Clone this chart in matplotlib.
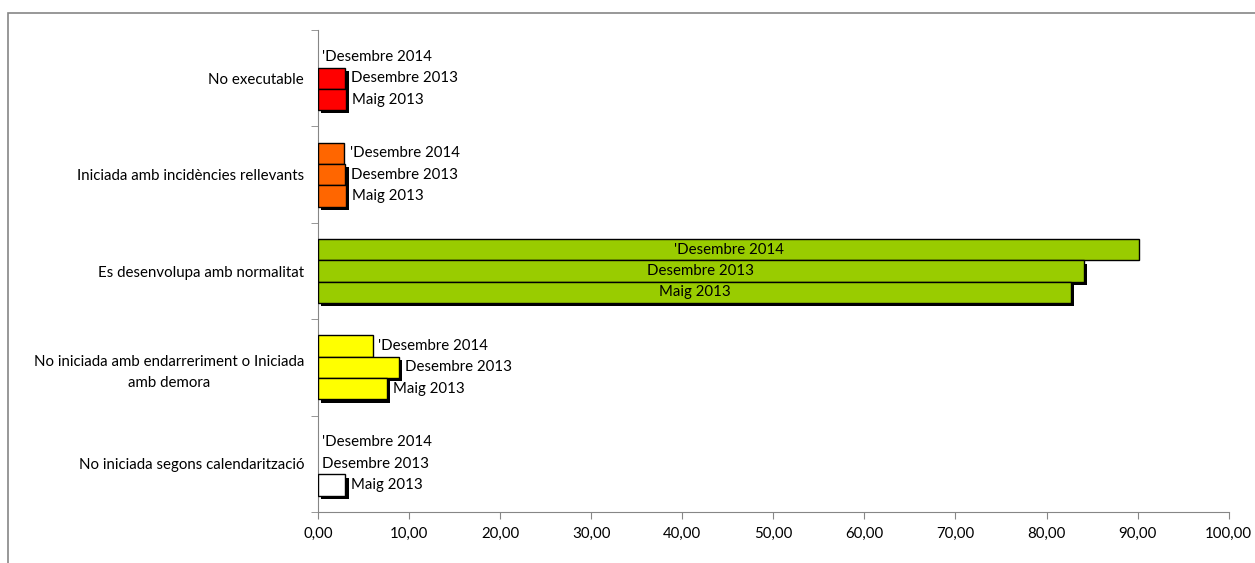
import matplotlib.pyplot as plt
import matplotlib.patheffects as pe
from matplotlib.patches import Rectangle
from matplotlib.ticker import FuncFormatter, MultipleLocator
import numpy as np

plt.rcParams['font.family'] = ['Lato', 'DejaVu Sans']

# categories, top to bottom
categories = [
    "No executable",
    "Iniciada amb incidències rellevants",
    "Es desenvolupa amb normalitat",
    "No iniciada amb endarreriment o Iniciada\namb demora",
    "No iniciada segons calendarització",
]
colors = ["#FF0000", "#FF6600", "#99CC00", "#FFFF00", "#FFFFFF"]

series_names = ["'Desembre 2014", "Desembre 2013", "Maig 2013"]
des_2014 = [0.0, 2.9, 90.2, 6.0, 0.0]
des_2013 = [3.0, 3.0, 84.1, 8.9, 0.0]
maig_2013 = [3.1, 3.1, 82.7, 7.6, 3.0]
series_values = [des_2014, des_2013, maig_2013]

fig = plt.figure(figsize=(12.55, 5.63), dpi=100)
ax = fig.add_axes([0.2534, 0.0906, 0.7256, 0.856])

# outer chart frame
fig.patches.append(Rectangle((8 / 1255, -0.01), 1.02, 1 - 13 / 563 + 0.01,
                             transform=fig.transFigure, fill=False,
                             edgecolor="#868686", linewidth=1.2))

n = len(categories)
centers = np.arange(n)[::-1].astype(float)  # first category on top
bh = 0.221
fs = 10.8

for s, (name, vals) in enumerate(zip(series_names, series_values)):
    ypos = centers + (1 - s) * bh
    for i, v in enumerate(vals):
        effects = []
        if s > 0 and v > 0:
            effects = [pe.SimplePatchShadow(offset=(2.3, -2.3), shadow_rgbFace="black", alpha=1.0),
                       pe.Normal()]
        if v > 0:
            ax.barh(ypos[i], v, height=bh, color=colors[i], edgecolor="black",
                    linewidth=1.0, path_effects=effects, zorder=3)
        if v > 50:
            ax.text(v / 2, ypos[i], name, ha="center", va="center",
                    fontsize=fs, zorder=5)
        else:
            ax.annotate(name, (v, ypos[i]), xytext=(3 if v == 0 else 4, 0),
                        textcoords="offset points", ha="left", va="center",
                        fontsize=fs, zorder=5)

ax.set_xlim(0, 100)
ax.set_ylim(-0.5, n - 0.5)
ax.xaxis.set_major_locator(MultipleLocator(10))
ax.xaxis.set_major_formatter(FuncFormatter(lambda x, p: f"{x:.2f}".replace(".", ",")))

ax.set_yticks(centers)
ax.set_yticklabels(categories)
for lab in ax.get_yticklabels():
    lab.set_multialignment("center")
    lab.set_linespacing(1.6)
ax.set_yticks(np.arange(-0.5, n, 1.0), minor=True)
ax.tick_params(axis="y", which="major", length=0, pad=10, labelsize=fs)
ax.tick_params(axis="y", which="minor", length=5, color="#868686", direction="out")
ax.tick_params(axis="x", length=5, color="#868686", labelsize=fs, pad=6)

for side in ["top", "right"]:
    ax.spines[side].set_visible(False)
for side in ["left", "bottom"]:
    ax.spines[side].set_color("#868686")

fig.savefig("out.png", dpi=100)
